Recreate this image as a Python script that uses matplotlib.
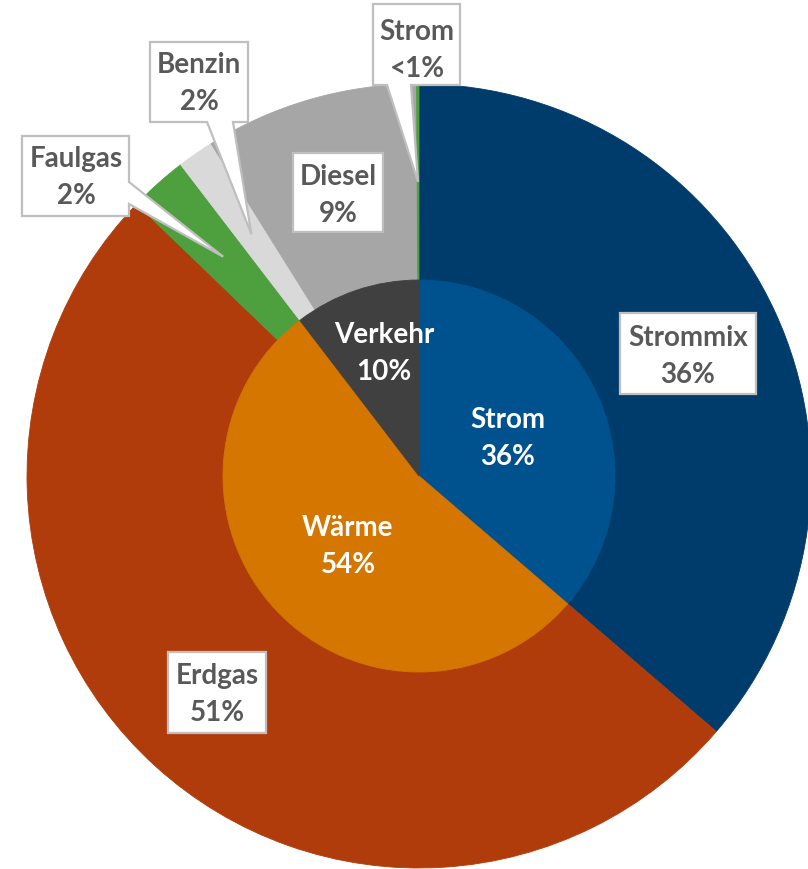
import numpy as np
import matplotlib.pyplot as plt
from matplotlib.patches import Polygon

plt.rcParams['font.family'] = ['Lato', 'DejaVu Sans']

# inner ring (sector)
inner_names = ["Strom", "Wärme", "Verkehr"]
inner_vals = [36.3, 53.3, 10.4]
inner_text = ["36%", "54%", "10%"]
inner_colors = ["#00528F", "#D47600", "#404040"]

# outer ring (energy carrier)
outer_names = ["Strommix", "Erdgas", "Faulgas", "Benzin", "Diesel", "Strom"]
outer_vals = [36.3, 50.9, 2.4, 1.5, 8.8, 0.1]
outer_text = ["36%", "51%", "2%", "2%", "9%", "<1%"]
outer_colors = ["#003C6B", "#B03C0B", "#4E9F3D", "#D9D9D9", "#A6A6A6", "#4E9F3D"]

W, H = 808, 870
CX, CY = 419, 477   # pie centre in pixels
R = 392
R_IN = 196


def px(x, y):
    # pixel position (top-left origin) -> data coords
    return x - CX, CY - y


fig = plt.figure(figsize=(W / 100, H / 100), dpi=100)
ax = fig.add_axes([0, 0, 1, 1])

ax.pie(outer_vals, radius=R, startangle=90, counterclock=False, colors=outer_colors,
       wedgeprops=dict(linewidth=0.6))
for w in ax.patches:
    w.set_edgecolor(w.get_facecolor())
n_out = len(ax.patches)
ax.pie(inner_vals, radius=R_IN, startangle=90, counterclock=False, colors=inner_colors,
       wedgeprops=dict(linewidth=0.6))
for w in ax.patches[n_out:]:
    w.set_edgecolor(w.get_facecolor())

ax.set_xlim(-CX, W - CX)
ax.set_ylim(CY - H, CY)
ax.set_aspect('equal')
ax.axis('off')

# mid angles of outer wedges
cum = np.cumsum([0] + outer_vals) / np.sum(outer_vals)
mid = 90 - 360 * (cum[:-1] + cum[1:]) / 2


def tip(i, frac=0.75):
    a = np.radians(mid[i])
    return frac * R * np.cos(a), frac * R * np.sin(a)


txt_grey = "#595959"
box_edge = "#BFBFBF"
fs = 20


def callout(pts, idx, spike=None):
    # pts: box corners in pixels, spike: (position in polygon, base1, base2)
    verts = [px(*p) for p in pts]
    if spike is not None:
        pos, b1, b2 = spike
        verts = verts[:pos] + [px(*b1), tip(idx), px(*b2)] + verts[pos:]
    ax.add_patch(Polygon(verts, closed=True, facecolor="white", edgecolor=box_edge,
                         linewidth=1.6, zorder=5, joinstyle='miter'))


def label(x, y, name, val, color):
    ax.text(*px(x, y - 18), name, ha='center', va='center', fontsize=fs,
            fontweight='bold', color=color, zorder=6)
    ax.text(*px(x, y + 19), val, ha='center', va='center', fontsize=fs,
            fontweight='bold', color=color, zorder=6)


# boxes without spike
callout([(620, 314), (756, 314), (756, 395), (620, 395)], 0)
callout([(168, 653), (266, 653), (266, 734), (168, 734)], 1)
callout([(293, 154), (383, 154), (383, 233), (293, 233)], 4)
# boxes with spike
callout([(22, 137), (129, 137), (129, 217), (22, 217)], 2,
        spike=(2, (129, 183), (129, 205)))
callout([(150, 43), (248, 43), (248, 123), (150, 123)], 3,
        spike=(3, (233, 123), (207, 123)))
callout([(373, 5), (460, 5), (460, 86), (373, 86)], 5,
        spike=(3, (411, 86), (387, 86)))

label(688, 356, outer_names[0], outer_text[0], txt_grey)
label(217, 694, outer_names[1], outer_text[1], txt_grey)
label(76, 177, outer_names[2], outer_text[2], txt_grey)
label(199, 83, outer_names[3], outer_text[3], txt_grey)
label(338, 195, outer_names[4], outer_text[4], txt_grey)
label(417, 50, outer_names[5], outer_text[5], txt_grey)

label(508, 438, inner_names[0], inner_text[0], "white")
label(348, 546, inner_names[1], inner_text[1], "white")
label(384, 353, inner_names[2], inner_text[2], "white")

fig.savefig("out.png", dpi=100)
